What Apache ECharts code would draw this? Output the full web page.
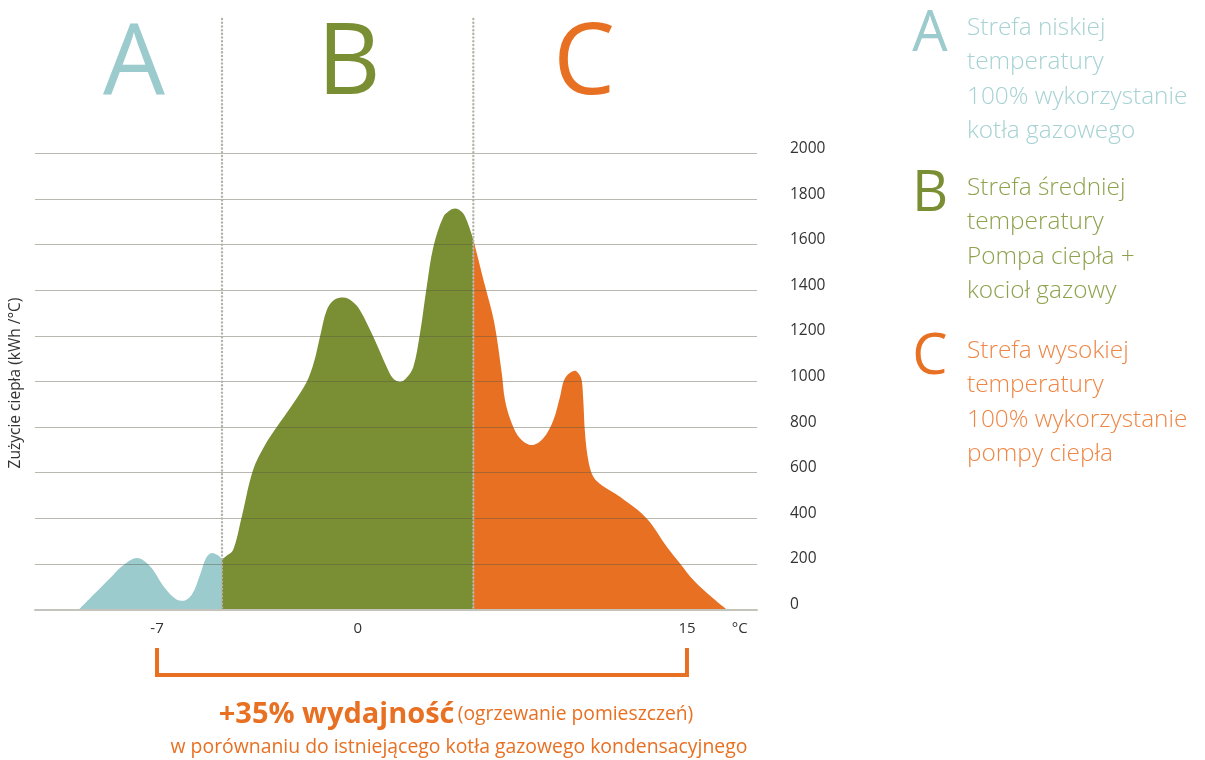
<!DOCTYPE html>
<html>
<head>
<meta charset="utf-8">
<script src="https://cdn.jsdelivr.net/npm/echarts@6/dist/echarts.min.js"></script>
<style>
html,body{margin:0;padding:0;background:#fff;}
#chart{width:1205px;height:760px;}
</style>
</head>
<body>
<div id="chart"></div>
<script>
// x = relative position along the temperature axis (0..100), y = heat use (kWh/°C)
const zoneA_x = [6.09, 8.31, 10.39, 12.05, 14.13, 15.93, 18.01, 19.53, 20.50, 21.75, 22.85, 23.68, 24.52, 25.35, 25.90];
const zoneA_y = [0, 71, 137, 190, 226, 190, 93, 45, 38, 67, 151, 225, 248, 238, 221];

const zoneB_x = [25.90, 26.45, 27.42, 28.63, 30.19, 31.86, 33.48, 35.60, 37.63, 38.64, 39.47, 40.40, 41.41, 42.70, 43.91, 45.01, 46.86, 48.71, 49.58, 50.55, 51.52, 52.40, 53.32, 54.25, 55.17, 56.55, 57.48, 58.17, 59.14, 59.79, 60.71];
const zoneB_y = [221, 234, 260, 406, 611, 721, 800, 896, 998, 1085, 1196, 1313, 1357, 1368, 1352, 1313, 1196, 1064, 1014, 998, 1019, 1064, 1211, 1415, 1590, 1722, 1751, 1759, 1743, 1707, 1624];

const zoneC_x = [60.71, 62.33, 63.60, 64.65, 65.10, 66.03, 67.17, 68.80, 70.40, 71.79, 72.71, 73.41, 74.79, 75.35, 75.72, 75.94, 76.18, 76.63, 77.33, 78.49, 81.02, 84.72, 87.50, 89.34, 91.18, 93.95, 95.80];
const zoneC_y = [1624, 1420, 1260, 1036, 918, 817, 751, 721, 751, 830, 932, 1014, 1047, 1032, 1006, 918, 773, 655, 582, 545, 494, 399, 275, 202, 129, 48, 0];

const zoneBounds = [25.90, 60.71];
const xTickPos = [16.9, 44.7, 90.3, 97.6];
const xTickLabels = ['-7', '0', '15', '°C'];

const zoneLetters = ['A', 'B', 'C'];
const legendLines = [
  ['Strefa niskiej', 'temperatury', '100% wykorzystanie', 'kotła gazowego'],
  ['Strefa średniej', 'temperatury', 'Pompa ciepła +', 'kocioł gazowy'],
  ['Strefa wysokiej', 'temperatury', '100% wykorzystanie', 'pompy ciepła']
];
const yAxisTitle = 'Zużycie ciepła (kWh /°C)';
const noteBold = '+35% wydajność';
const noteParen = '(ogrzewanie pomieszczeń)';
const noteLine2 = 'w porównaniu do istniejącego kotła gazowego kondensacyjnego';

const colA = '#9ccbcd', colB = '#7a8f34', colC = '#e87022';
const txtA = '#a6d2d3', txtB = '#8ea24e', txtC = '#ee8645';
const FONT = "'Open Sans', 'Noto Sans', sans-serif";

const zip = (xs, ys) => xs.map((x, i) => [x, ys[i]]);

const chart = echarts.init(document.getElementById('chart'), null, {renderer: 'canvas'});
const mkSeries = (name, xs, ys, color) => ({
  name, type: 'line', smooth: 0.35, symbol: 'none', z: 2,
  lineStyle: {width: 0, color}, areaStyle: {color, opacity: 1},
  data: zip(xs, ys)
});

chart.setOption({
  animation: false,
  textStyle: {fontFamily: FONT},
  grid: {left: 35, right: 448, top: 153.5, bottom: 150.5, containLabel: false},
  xAxis: {
    type: 'value', min: 0, max: 100, z: 4,
    axisLine: {show: true, lineStyle: {color: '#c4c4bc', width: 2}},
    axisTick: {show: false},
    splitLine: {show: false},
    axisLabel: {
      customValues: xTickPos, margin: 12, color: '#333', fontSize: 15, fontFamily: FONT,
      formatter: v => { const i = xTickPos.findIndex(p => Math.abs(p - v) < 1e-6); return i >= 0 ? xTickLabels[i] : ''; }
    }
  },
  yAxis: {
    type: 'value', position: 'right', min: 0, max: 2000, interval: 200, z: 4,
    axisLine: {show: false}, axisTick: {show: false},
    splitLine: {show: true, lineStyle: {color: 'rgba(85,85,65,0.42)', width: 1}},
    axisLabel: {margin: 33, color: '#333', fontSize: 15.5, fontFamily: FONT, align: 'left',
      verticalAlign: 'bottom', lineHeight: 10, formatter: v => String(v)}
  },
  series: [
    mkSeries('A', zoneA_x, zoneA_y, colA),
    mkSeries('B', zoneB_x, zoneB_y, colB),
    mkSeries('C', zoneC_x, zoneC_y, colC)
  ]
});

const px = v => chart.convertToPixel({xAxisIndex: 0}, v);
const py = v => chart.convertToPixel({yAxisIndex: 0}, v);
const graphics = [];
const yBottom = py(0);
zoneBounds.forEach((b) => {
  graphics.push({type: 'line', z: 10, shape: {x1: px(b), y1: 19, x2: px(b), y2: yBottom},
    style: {stroke: '#b3b3ab', lineWidth: 2.4, lineDash: [0.1, 3.6], lineCap: 'round'}});
});
const letterCols = [colA, colB, colC];
const letterX = [134, 349, 584];
zoneLetters.forEach((L, i) => {
  graphics.push({type: 'text', z: 10, x: letterX[i], y: 66,
    style: {text: L, fill: letterCols[i], font: `400 98px ${FONT}`, align: 'center', verticalAlign: 'middle'}});
});
// legend on the right
const legTop = [28, 188, 351];
const txtCols = [txtA, txtB, txtC];
zoneLetters.forEach((L, i) => {
  graphics.push({type: 'text', z: 10, x: 930, y: legTop[i] + 7,
    style: {text: L, fill: letterCols[i], font: `400 56px ${FONT}`, align: 'center', verticalAlign: 'middle'}});
  legendLines[i].forEach((t, j) => {
    graphics.push({type: 'text', z: 10, x: 967, y: legTop[i] + j * 34.5,
      style: {text: t, fill: txtCols[i], font: `300 24.4px ${FONT}`, align: 'left', verticalAlign: 'middle'}});
  });
});
// y-axis title
graphics.push({type: 'text', z: 10, x: 16, y: 383, rotation: Math.PI / 2,
  style: {text: yAxisTitle, fill: '#333', font: `15.5px ${FONT}`, align: 'center', verticalAlign: 'middle'}});
// bracket from -7 to 15
const bx1 = px(xTickPos[0]), bx2 = px(xTickPos[2]);
graphics.push({type: 'polyline', z: 10, shape: {points: [[bx1, 648], [bx1, 675], [bx2, 675], [bx2, 648]]},
  style: {stroke: colC, lineWidth: 4, fill: null}});
graphics.push({type: 'text', z: 10, x: 456, y: 715,
  style: {rich: {b: {font: `bold 29px ${FONT}`, fill: colC}, n: {font: `19.3px ${FONT}`, fill: colC}},
    text: `{b|${noteBold}} {n|${noteParen}}`, align: 'center', verticalAlign: 'middle'}});
graphics.push({type: 'text', z: 10, x: 459, y: 747,
  style: {text: noteLine2, fill: colC, font: `19.4px ${FONT}`, align: 'center', verticalAlign: 'middle'}});

chart.setOption({graphic: graphics});
</script>
</body>
</html>
